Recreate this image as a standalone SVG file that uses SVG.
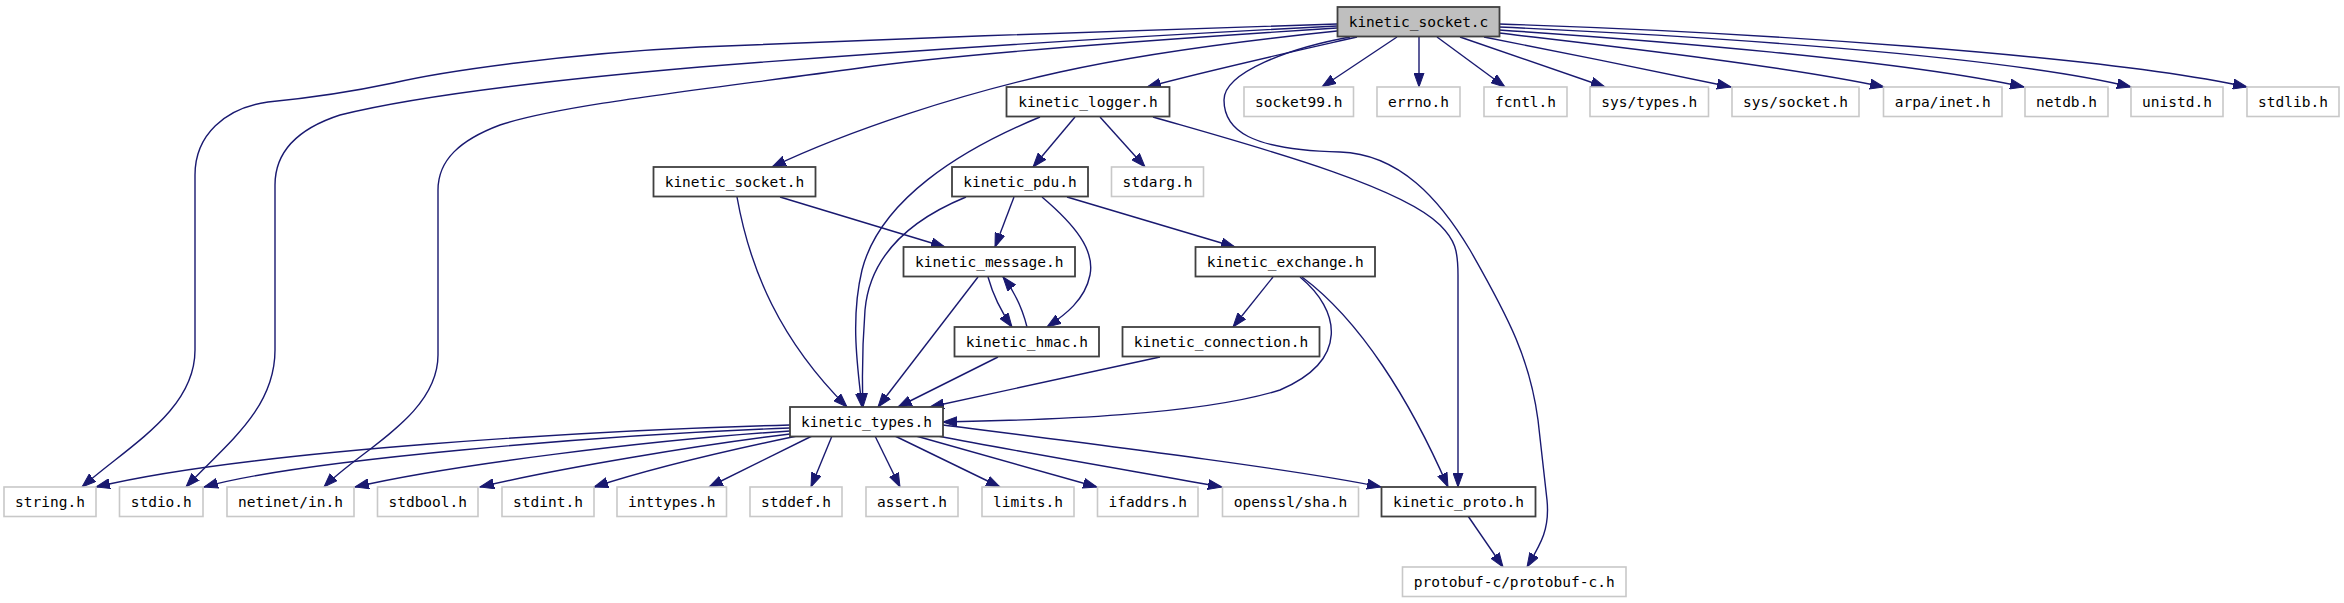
<svg xmlns="http://www.w3.org/2000/svg" width="2344" height="603" viewBox="0 0 2344 603">
<style>
rect{height:29.5px}
.n rect{fill:#ffffff;stroke:#404040;stroke-width:1.8}
.s rect{fill:#ffffff;stroke:#c8c8c8;stroke-width:1.6}
.r rect{fill:#bfbfbf;stroke:#404040;stroke-width:1.8}
text{font-family:"DejaVu Sans Mono","Liberation Mono",monospace;font-size:14.5px;fill:#000;text-anchor:middle}
#edges path{fill:none;stroke:#191970;stroke-width:1.4;marker-end:url(#a)}
</style>
<defs>
<marker id="a" markerWidth="15" markerHeight="11" refX="14" refY="5.5" orient="auto" markerUnits="userSpaceOnUse">
<path d="M0,0.5 L14,5.5 L0,10.5 z" fill="#191970" stroke="#191970" stroke-width="1"/>
</marker>
</defs>
<rect x="0" y="0" width="2344" height="603" style="fill:#ffffff;height:603px"/>
<g id="edges">
<path d="M1337,24 C1150,30 900,38 700,47 C560,54 440,72 393,83 C360,90 320,97 268,102 C225,108 195,135 195,175 L195,350 C195,410 130,445 82,487"/>
<path d="M1337,26 C1100,38 850,55 700,67 C550,80 420,95 340,115 C300,128 275,150 275,185 L275,350 C275,410 225,445 186,487"/>
<path d="M1337,28 C1150,40 950,55 860,68 C700,90 560,105 500,125 C460,140 438,160 438,190 L438,355 C438,415 360,450 324,487"/>
<path d="M1337,31 C1250,40 1150,52 1060,72 C960,94 850,130 772,167"/>
<path d="M1357,37 C1300,50 1210,70 1147,87"/>
<path d="M1350,37 C1290,48 1224,72 1224,100 C1224,130 1250,150 1340,152 C1400,154 1440,200 1470,250 C1510,320 1530,360 1538,420 L1547,500 C1550,530 1540,545 1527,567"/>
<path d="M1397,37 L1322,87"/>
<path d="M1419,37 L1419,87"/>
<path d="M1437,37 L1505,87"/>
<path d="M1460,37 L1605,87"/>
<path d="M1484,37 C1560,52 1660,72 1731,87"/>
<path d="M1499,33 C1600,45 1780,65 1884,87"/>
<path d="M1499,30 C1650,40 1900,60 2024,87"/>
<path d="M1499,27 C1700,36 2000,55 2131,87"/>
<path d="M1499,24 C1750,32 2100,55 2247,87"/>
<path d="M1040,117 C960,150 880,200 862,270 C850,320 858,370 862,407"/>
<path d="M1075,117 L1033,167"/>
<path d="M1100,117 L1145,167"/>
<path d="M1153,117 C1250,145 1400,185 1440,225 C1455,240 1458,250 1458,275 L1458,487"/>
<path d="M966,197 C910,220 870,255 865,310 C862,350 862,380 863,407"/>
<path d="M1014,197 L995,247"/>
<path d="M1042,197 C1075,225 1095,250 1090,275 C1085,300 1065,315 1047,327"/>
<path d="M1067,197 L1235,247"/>
<path d="M780,197 L945,247"/>
<path d="M737,197 C750,270 780,340 847,407"/>
<path d="M978,277 L878,407"/>
<path d="M988,277 C993,295 1000,310 1012,327"/>
<path d="M1027,327 C1022,307 1015,292 1003,277"/>
<path d="M998,357 L898,407"/>
<path d="M1160,357 L930,407"/>
<path d="M1273,277 L1233,327"/>
<path d="M1300,277 C1340,310 1350,360 1280,390 C1200,415 1050,420 943,422"/>
<path d="M1302,277 C1360,320 1410,400 1448,487"/>
<path d="M1468,516 L1503,567"/>
<path d="M790,425 C600,430 250,450 96,487"/>
<path d="M790,428 C600,435 300,460 204,487"/>
<path d="M790,431 C650,440 450,465 355,487"/>
<path d="M790,434 C700,445 560,468 480,487"/>
<path d="M797,436 C720,452 640,472 594,487"/>
<path d="M812,436 L709,487"/>
<path d="M832,436 L811,487"/>
<path d="M875,436 L900,487"/>
<path d="M895,436 L1000,487"/>
<path d="M916,436 L1097,487"/>
<path d="M938,436 C1020,452 1150,474 1222,487"/>
<path d="M943,425 C1100,445 1300,470 1381,487"/>
</g>
<g id="kinetic_socket_c" class="r"><rect x="1337.5" y="7" width="162"/><text x="1418.5" y="26.75">kinetic_socket.c</text></g>
<g id="kinetic_logger_h" class="n"><rect x="1006.5" y="87" width="163"/><text x="1088" y="106.75">kinetic_logger.h</text></g>
<g id="socket99_h" class="s"><rect x="1244" y="87" width="109.5"/><text x="1298.75" y="106.75">socket99.h</text></g>
<g id="errno_h" class="s"><rect x="1377" y="87" width="83"/><text x="1418.5" y="106.75">errno.h</text></g>
<g id="fcntl_h" class="s"><rect x="1484" y="87" width="83"/><text x="1525.5" y="106.75">fcntl.h</text></g>
<g id="sys_types_h" class="s"><rect x="1590" y="87" width="118.5"/><text x="1649.25" y="106.75">sys/types.h</text></g>
<g id="sys_socket_h" class="s"><rect x="1732" y="87" width="127"/><text x="1795.5" y="106.75">sys/socket.h</text></g>
<g id="arpa_inet_h" class="s"><rect x="1883.5" y="87" width="118.5"/><text x="1942.75" y="106.75">arpa/inet.h</text></g>
<g id="netdb_h" class="s"><rect x="2025" y="87" width="83"/><text x="2066.5" y="106.75">netdb.h</text></g>
<g id="unistd_h" class="s"><rect x="2131" y="87" width="92"/><text x="2177" y="106.75">unistd.h</text></g>
<g id="stdlib_h" class="s"><rect x="2247" y="87" width="92"/><text x="2293" y="106.75">stdlib.h</text></g>
<g id="kinetic_socket_h" class="n"><rect x="653.5" y="167" width="162"/><text x="734.5" y="186.75">kinetic_socket.h</text></g>
<g id="kinetic_pdu_h" class="n"><rect x="952" y="167" width="136"/><text x="1020" y="186.75">kinetic_pdu.h</text></g>
<g id="stdarg_h" class="s"><rect x="1111.5" y="167" width="92"/><text x="1157.5" y="186.75">stdarg.h</text></g>
<g id="kinetic_message_h" class="n"><rect x="903.5" y="247" width="171.5"/><text x="989.25" y="266.75">kinetic_message.h</text></g>
<g id="kinetic_exchange_h" class="n"><rect x="1195.5" y="247" width="179.5"/><text x="1285.25" y="266.75">kinetic_exchange.h</text></g>
<g id="kinetic_hmac_h" class="n"><rect x="954.5" y="327" width="144.5"/><text x="1026.75" y="346.75">kinetic_hmac.h</text></g>
<g id="kinetic_connection_h" class="n"><rect x="1122.5" y="327" width="197"/><text x="1221" y="346.75">kinetic_connection.h</text></g>
<g id="kinetic_types_h" class="n"><rect x="790" y="407" width="153"/><text x="866.5" y="426.75">kinetic_types.h</text></g>
<g id="string_h" class="s"><rect x="4" y="487" width="92"/><text x="50" y="506.75">string.h</text></g>
<g id="stdio_h" class="s"><rect x="119.5" y="487" width="83.5"/><text x="161.25" y="506.75">stdio.h</text></g>
<g id="netinet_in_h" class="s"><rect x="227" y="487" width="127"/><text x="290.5" y="506.75">netinet/in.h</text></g>
<g id="stdbool_h" class="s"><rect x="377.5" y="487" width="100.5"/><text x="427.75" y="506.75">stdbool.h</text></g>
<g id="stdint_h" class="s"><rect x="502" y="487" width="92"/><text x="548" y="506.75">stdint.h</text></g>
<g id="inttypes_h" class="s"><rect x="617" y="487" width="109.5"/><text x="671.75" y="506.75">inttypes.h</text></g>
<g id="stddef_h" class="s"><rect x="750" y="487" width="92"/><text x="796" y="506.75">stddef.h</text></g>
<g id="assert_h" class="s"><rect x="866" y="487" width="92"/><text x="912" y="506.75">assert.h</text></g>
<g id="limits_h" class="s"><rect x="982" y="487" width="92"/><text x="1028" y="506.75">limits.h</text></g>
<g id="ifaddrs_h" class="s"><rect x="1097.5" y="487" width="100.5"/><text x="1147.75" y="506.75">ifaddrs.h</text></g>
<g id="openssl_sha_h" class="s"><rect x="1222.5" y="487" width="136"/><text x="1290.5" y="506.75">openssl/sha.h</text></g>
<g id="kinetic_proto_h" class="n"><rect x="1381.5" y="487" width="154"/><text x="1458.5" y="506.75">kinetic_proto.h</text></g>
<g id="protobuf_c_h" class="s"><rect x="1402.5" y="567" width="223.5"/><text x="1514.25" y="586.75">protobuf-c/protobuf-c.h</text></g>
</svg>
